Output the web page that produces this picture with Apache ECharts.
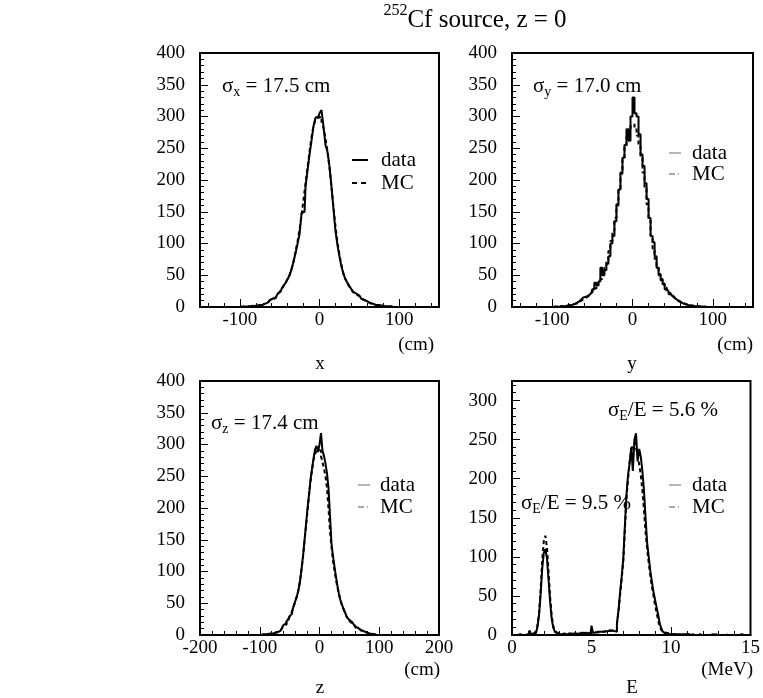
<!DOCTYPE html>
<html>
<head>
<meta charset="utf-8">
<script src="https://cdn.jsdelivr.net/npm/echarts@6/dist/echarts.min.js"></script>
<style>
html,body{margin:0;padding:0;background:#fff;}
#chart{width:763px;height:698px;}
</style>
</head>
<body>
<div id="chart"></div>
<script>
// ---------------- DATA ----------------
// x, y, z histograms: 2.5 cm bins from -100 cm to +100 cm (80 bins)
const posBinStart = -100;
const posBinWidth = 2.5;
const xData = [1,0,1,1,0,1,2,1,2,3, 3,4,5,7,9,11,13,15,18,21, 24,29,34,38,44,50,60,72,85,100,
  115,148,150,190,215,240,262,285,298,300, 305,310,285,255,245,222,190,155,120,98,
  80,64,52,44,38,33,28,24,21,18, 15,13,11,9,7,6,5,4,3,3, 2,2,1,1,1,0,1,0,0,0];
const xMC = [0,1,0,1,1,1,1,2,2,2, 3,4,5,6,8,10,12,14,17,20, 24,28,33,38,44,51,60,72,88,104,
  122,145,170,195,220,245,268,285,295,298, 300,292,282,266,245,220,190,158,128,102,
  82,66,53,44,37,32,27,23,20,17, 15,13,11,9,7,6,5,4,3,3, 2,2,1,1,1,1,0,1,0,0];
const yData = [0,0,1,0,1,1,1,2,2,3, 4,5,7,9,12,15,16,17,19,22, 28,38,34,40,62,50,58,68,80,100,
  112,135,160,185,212,235,255,280,262,300, 330,305,300,272,240,222,195,170,140,112,
  102,80,62,50,42,36,28,25,20,17, 14,12,9,8,6,5,4,3,2,2, 1,1,1,0,1,0,0,0,0,0];
const yMC = [0,1,0,1,1,1,2,2,3,3, 4,5,6,8,10,12,14,16,18,21, 25,29,33,38,44,52,62,74,88,104,
  120,140,162,186,210,232,252,268,280,285, 288,282,270,255,235,212,188,162,136,112,
  92,76,63,52,44,37,31,26,22,18, 15,12,10,8,7,5,4,3,3,2, 2,1,1,1,0,1,0,0,0,0];
const zData = [0,1,0,1,1,1,2,2,3,3, 4,5,5,7,9,12,16,18,22,25, 30,33,40,48,55,62,72,85,105,125,
  150,175,200,222,245,262,278,292,298,288, 300,318,290,282,270,255,232,190,145,125,
  108,92,78,65,55,48,42,36,30,26, 23,20,18,16,13,11,9,8,7,6, 5,4,3,2,2,1,1,0,1,0];
const zMC = [0,0,1,1,1,1,2,2,2,3, 4,4,5,7,9,11,14,17,21,25, 29,34,40,47,54,62,72,86,104,124,
  148,172,196,220,242,260,275,285,290,292, 290,282,272,262,250,232,200,165,140,118,
  102,88,75,64,55,47,41,35,30,26, 22,19,17,15,12,10,9,7,6,5, 4,4,3,2,2,1,1,1,0,0];
// E histogram: 0.1 MeV bins from 0 to 15 MeV (150 bins)
const eBinStart = 0;
const eBinWidth = 0.1;
const eData = [0,0,0,0,1,0,0,0,1,0, 1,6,1,2,2,4,10,25,52,85, 105,110,98,70,42,20,9,4,2,1,
  2,1,1,2,1,1,2,1,2,1, 2,1,2,3,2,2,3,2,3,3, 12,3,3,4,3,4,4,5,4,5,
  6,5,6,5,5,4,15,32,55,75, 98,140,180,205,220,240,210,250,258,222,
  238,228,210,185,150,118,100,82,68,55, 45,35,25,14,8,4,2,2,2,1,
  1,2,1,1,0,1,1,0,1,1, 0,1,0,1,0,0,1,0,0,1, 0,0,1,0,0,0,1,0,0,0, 0,1,0,0,0,0,0,1,0,0, 0,0,0,0,1,0,0,0,0,0];
const eMC = [0,0,0,0,0,1,0,0,0,1, 1,1,2,2,3,5,12,28,58,95, 120,127,112,80,48,24,11,5,3,2,
  2,1,2,1,1,2,1,2,1,2, 1,2,2,2,3,2,2,3,3,3, 3,3,4,3,4,4,4,5,5,5,
  6,6,5,6,5,6,14,30,52,72, 95,135,175,200,222,236,244,246,240,230,
  218,205,185,160,132,110,92,76,62,50, 38,28,18,10,6,4,3,2,2,1,
  1,1,1,1,1,0,1,0,1,0, 1,0,0,1,0,0,0,1,0,0, 0,1,0,0,0,0,0,0,1,0, 0,0,0,0,1,0,0,0,0,0, 0,0,0,0,0,0,0,0,0,0];

// tick labels
const xyTicks = [-100, 0, 100];
const zTicks = [-200, -100, 0, 100, 200];
const eTicks = [0, 5, 10, 15];
const countTicks = [0, 50, 100, 150, 200, 250, 300, 350, 400];
const eCountTicks = [0, 50, 100, 150, 200, 250, 300];

// ---------------- BUILD ----------------
const FONT = '"Liberation Serif", "Times New Roman", serif';
function range(a, b, s) { const r = []; for (let v = a; v <= b + 1e-9; v += s) r.push(+v.toFixed(6)); return r; }
function hist(start, w, vals) { return vals.map((v, i) => [+(start + (i + 0.5) * w).toFixed(4), v]); }

const grids = [
  {left: 200, top: 53, width: 239, height: 254},
  {left: 512, top: 53, width: 241, height: 254},
  {left: 200, top: 381, width: 239, height: 254},
  {left: 512, top: 381, width: 241, height: 254}
].map(g => Object.assign({show: true, borderColor: '#000', borderWidth: 2, backgroundColor: 'transparent'}, g));

const panels = [
  {xmin: -150, xmax: 150, xMaj: xyTicks, xMin: range(-140, 140, 20), ymax: 400, yMaj: countTicks, yMin: range(0, 400, 10), data: hist(posBinStart, posBinWidth, xData), mc: hist(posBinStart, posBinWidth, xMC)},
  {xmin: -150, xmax: 150, xMaj: xyTicks, xMin: range(-140, 140, 20), ymax: 400, yMaj: countTicks, yMin: range(0, 400, 10), data: hist(posBinStart, posBinWidth, yData), mc: hist(posBinStart, posBinWidth, yMC)},
  {xmin: -200, xmax: 200, xMaj: zTicks, xMin: range(-200, 200, 20), ymax: 400, yMaj: countTicks, yMin: range(0, 400, 10), data: hist(posBinStart, posBinWidth, zData), mc: hist(posBinStart, posBinWidth, zMC)},
  {xmin: 0, xmax: 15, xMaj: eTicks, xMin: range(0, 15, 1), ymax: 325, yMaj: eCountTicks, yMin: range(0, 320, 10), data: hist(eBinStart, eBinWidth, eData), mc: hist(eBinStart, eBinWidth, eMC)}
];

const xAxes = [], yAxes = [], series = [];
panels.forEach((p, i) => {
  const mx = xAxes.length, my = yAxes.length;
  xAxes.push({type: 'value', gridIndex: i, min: p.xmin, max: p.xmax, position: 'bottom',
    axisLine: {show: true, onZero: false, lineStyle: {color: '#000', width: 2}},
    axisTick: {show: true, inside: true, length: 8, customValues: p.xMaj, lineStyle: {color: '#000', width: 1}},
    axisLabel: {show: true, customValues: p.xMaj, margin: 4, color: '#000', fontFamily: FONT, fontSize: 19},
    splitLine: {show: false}});
  xAxes.push({type: 'value', gridIndex: i, min: p.xmin, max: p.xmax, position: 'bottom',
    axisLine: {show: false, onZero: false},
    axisTick: {show: true, inside: true, length: 4, customValues: p.xMin, lineStyle: {color: '#000', width: 1}},
    axisLabel: {show: false}, splitLine: {show: false}});
  yAxes.push({type: 'value', gridIndex: i, min: 0, max: p.ymax, position: 'left',
    axisLine: {show: true, onZero: false, lineStyle: {color: '#000', width: 2}},
    axisTick: {show: true, inside: true, length: 8, customValues: p.yMaj, lineStyle: {color: '#000', width: 1}},
    axisLabel: {show: true, customValues: p.yMaj, margin: 15, color: '#000', fontFamily: FONT, fontSize: 19},
    splitLine: {show: false}});
  yAxes.push({type: 'value', gridIndex: i, min: 0, max: p.ymax, position: 'left', offset: 0,
    axisLine: {show: false, onZero: false},
    axisTick: {show: true, inside: true, length: 4, customValues: p.yMin, lineStyle: {color: '#000', width: 1}},
    axisLabel: {show: false}, splitLine: {show: false}});
  series.push({name: 'MC', type: 'line', xAxisIndex: mx, yAxisIndex: my, step: 'middle', symbol: 'none',
    data: p.mc, lineStyle: {color: '#000', width: 2, type: [4, 3]}, silent: true, animation: false, z: 2});
  series.push({name: 'data', type: 'line', xAxisIndex: mx, yAxisIndex: my, step: 'middle', symbol: 'none',
    data: p.data, lineStyle: {color: '#000', width: 2}, silent: true, animation: false, z: 3});
});

function txt(x, y, text, size, align, rich) {
  return {type: 'text', x: x, y: y, silent: true, z: 100,
    style: {text: text, fill: '#000', font: size + 'px ' + FONT, fontFamily: FONT, fontSize: size,
      textAlign: align || 'left', align: align || 'left', textVerticalAlign: 'middle', verticalAlign: 'middle', rich: rich}};
}
const measureCtx = document.createElement('canvas').getContext('2d');
function textWidth(s, size) { measureCtx.font = size + 'px ' + FONT; return measureCtx.measureText(s).width; }
// sigma label: main text with lowered subscript
function sigmaLabel(x, y, sub, rest) {
  const w1 = textWidth('σ', 21), w2 = textWidth(sub, 14);
  return [txt(x, y, 'σ', 21), txt(x + w1, y + 6, sub, 14), txt(x + w1 + w2, y, rest, 21)];
}
const supRich = {
  m: {fontFamily: FONT, fontSize: 25, lineHeight: 30, verticalAlign: 'bottom', fill: '#000', color: '#000'},
  s: {fontFamily: FONT, fontSize: 16, lineHeight: 16, verticalAlign: 'top', fill: '#000', color: '#000'}
};
function legendLines(x1, x2, y1, y2, dark) {
  return [
    {type: 'line', silent: true, z: 100, shape: {x1: x1, y1: y1, x2: x2, y2: y1},
      style: {stroke: dark ? '#000' : '#888', lineWidth: dark ? 2 : 1.2}},
    {type: 'line', silent: true, z: 100, shape: {x1: x1, y1: y2, x2: x2, y2: y2},
      style: {stroke: dark ? '#000' : '#555', lineWidth: dark ? 2 : 1.2, lineDash: dark ? [5, 4] : [6, 3, 1, 3]}}
  ];
}

const graphics = [
  txt(475, 18, '{s|252}{m|Cf source, z = 0}', 25, 'center', supRich),
  ...sigmaLabel(222, 86, 'x', ' = 17.5 cm'),
  ...sigmaLabel(533, 86, 'y', ' = 17.0 cm'),
  ...sigmaLabel(211, 423, 'z', ' = 17.4 cm'),
  ...sigmaLabel(608, 410, 'E', '/E = 5.6 %'),
  ...sigmaLabel(521, 503, 'E', '/E = 9.5 %'),
  // legends
  ...legendLines(352, 368, 160, 183, true),
  txt(381, 160, 'data', 21), txt(381, 183, 'MC', 21),
  ...legendLines(669, 681, 153, 174, false),
  txt(692, 153, 'data', 21), txt(692, 174, 'MC', 21),
  ...legendLines(358, 370, 485, 507, false),
  txt(380, 485, 'data', 21), txt(380, 507, 'MC', 21),
  ...legendLines(669, 681, 485, 507, false),
  txt(692, 485, 'data', 21), txt(692, 507, 'MC', 21),
  // axis units and names
  txt(434, 345, '(cm)', 19, 'right'), txt(320, 364, 'x', 19, 'center'),
  txt(753, 345, '(cm)', 19, 'right'), txt(632, 364, 'y', 19, 'center'),
  txt(440, 670, '(cm)', 19, 'right'), txt(320, 688, 'z', 19, 'center'),
  txt(753, 670, '(MeV)', 19, 'right'), txt(632, 688, 'E', 19, 'center')
];

const chart = echarts.init(document.getElementById('chart'), null, {renderer: 'canvas'});
chart.setOption({
  backgroundColor: '#fff',
  animation: false,
  grid: grids,
  xAxis: xAxes,
  yAxis: yAxes,
  series: series,
  graphic: graphics
});
</script>
</body>
</html>
